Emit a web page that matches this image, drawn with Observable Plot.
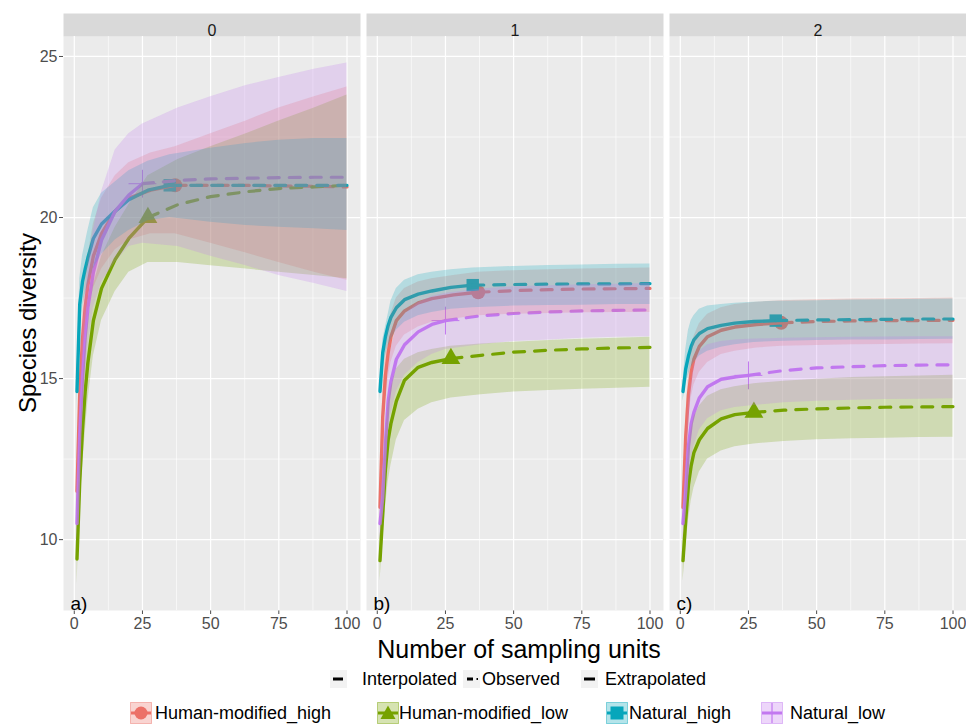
<!DOCTYPE html>
<html><head><meta charset="utf-8">
<script src="https://cdn.jsdelivr.net/npm/d3@7"></script>
<script src="https://cdn.jsdelivr.net/npm/@observablehq/plot@0.6"></script>
<style>
body{margin:0;background:#fff;font-family:"Liberation Sans",Arial,sans-serif;}
#wrap{position:relative;width:966px;height:727px;overflow:hidden;}
.abs{position:absolute;white-space:nowrap;color:#000;}
.lg{position:absolute;font-size:18px;line-height:20px;white-space:nowrap;color:#000;}
.key{position:absolute;}
</style></head><body>
<div id="wrap">
<div id="chart"></div>
<div class="abs" id="ytitle" style="left:28px;top:323px;font-size:24px;transform:translate(-50%,-50%) rotate(-90deg);">Species diversity</div>
<div class="abs" id="xtitle" style="left:519px;top:649px;font-size:25px;transform:translate(-50%,-50%);">Number of sampling units</div>
<div id="legend"></div>
</div>
<script>
// ---------- data ----------
const sites = ["Human-modified_high", "Human-modified_low", "Natural_high", "Natural_low"];
const siteColors = ["#EC7168", "#76A200", "#07A6BB", "#C278F0"];
const siteSymbols = ["circle", "triangle", "square", "plus"];
const orders = [0, 1, 2];
const panelTags = ["a)", "b)", "c)"];
const lineTypes = ["Interpolated", "Observed", "Extrapolated"];
const observedUnits = [37, 27, 35, 25];
const xTicks = [0, 25, 50, 75, 100];
const yTicks = [10, 15, 20, 25];

const unitsHMHigh = [1, 2, 3, 4, 5, 7, 10, 15, 20, 28, 37, 50, 63, 75, 88, 100];
const unitsHMLow  = [1, 2, 3, 4, 5, 7, 10, 15, 20, 27, 38, 50, 63, 75, 88, 100];
const unitsNatHigh = [1, 2, 3, 4, 5, 7, 10, 15, 20, 27, 35, 50, 63, 75, 88, 100];
const unitsNatLow  = [1, 2, 3, 4, 5, 7, 10, 15, 20, 25, 38, 50, 63, 75, 88, 100];

// q = 0
const hmHigh_q0_est = [11.5, 14.5, 16.2, 17.2, 17.9, 18.8, 19.5, 20.2, 20.6, 20.85, 21.0, 21.0, 21.0, 20.98, 20.97, 20.95];
const hmHigh_q0_lo  = [10.8, 13.7, 15.4, 16.3, 17.0, 17.8, 18.4, 19.0, 19.3, 19.5, 19.5, 19.2, 18.9, 18.6, 18.3, 18.05];
const hmHigh_q0_hi  = [12.2, 15.3, 17.0, 18.1, 18.8, 19.8, 20.6, 21.3, 21.7, 22.0, 22.2, 22.6, 23.0, 23.4, 23.75, 24.05];
const hmLow_q0_est = [9.4, 11.8, 13.4, 14.6, 15.5, 16.8, 17.8, 18.7, 19.35, 20.0, 20.4, 20.65, 20.8, 20.9, 20.95, 21.0];
const hmLow_q0_lo  = [8.6, 10.8, 12.2, 13.3, 14.3, 15.7, 16.8, 17.7, 18.3, 18.6, 18.6, 18.5, 18.4, 18.3, 18.2, 18.1];
const hmLow_q0_hi  = [10.2, 12.8, 14.6, 15.9, 16.7, 17.9, 18.8, 19.7, 20.4, 21.3, 21.8, 22.2, 22.6, 23.0, 23.4, 23.8];
const natHigh_q0_est = [14.6, 17.3, 18.0, 18.4, 18.75, 19.35, 19.8, 20.2, 20.55, 20.85, 21.0, 21.0, 21.0, 21.0, 21.0, 21.0];
const natHigh_q0_lo  = [14.0, 16.5, 17.2, 17.6, 17.9, 18.4, 18.85, 19.3, 19.6, 19.9, 20.0, 19.85, 19.75, 19.7, 19.65, 19.6];
const natHigh_q0_hi  = [15.2, 18.1, 18.8, 19.2, 19.6, 20.3, 20.75, 21.1, 21.45, 21.75, 21.95, 22.15, 22.3, 22.4, 22.45, 22.45];
const natLow_q0_est = [10.5, 13.3, 15.0, 16.3, 17.2, 18.3, 19.3, 20.2, 20.7, 21.05, 21.15, 21.2, 21.22, 21.24, 21.25, 21.25];
const natLow_q0_lo  = [9.8, 12.2, 13.7, 15.0, 16.0, 17.2, 18.0, 18.6, 19.1, 19.2, 19.1, 18.8, 18.5, 18.2, 17.95, 17.7];
const natLow_q0_hi  = [11.2, 14.5, 16.4, 17.6, 18.4, 19.6, 20.8, 22.1, 22.6, 22.9, 23.4, 23.75, 24.1, 24.35, 24.6, 24.8];

// q = 1
const hmHigh_q1_est = [11.0, 13.8, 15.1, 15.8, 16.3, 16.8, 17.1, 17.35, 17.48, 17.6, 17.68, 17.73, 17.76, 17.78, 17.79, 17.8];
const hmHigh_q1_lo  = [10.5, 13.0, 14.3, 15.0, 15.5, 16.0, 16.35, 16.6, 16.75, 16.85, 16.95, 17.0, 17.02, 17.04, 17.05, 17.05];
const hmHigh_q1_hi  = [11.5, 14.6, 15.9, 16.6, 17.0, 17.5, 17.8, 18.0, 18.1, 18.2, 18.3, 18.35, 18.38, 18.4, 18.42, 18.43];
const hmLow_q1_est = [9.35, 10.8, 12.2, 13.1, 13.6, 14.3, 14.95, 15.35, 15.5, 15.62, 15.72, 15.82, 15.88, 15.92, 15.95, 15.97];
const hmLow_q1_lo  = [8.7, 9.9, 11.0, 11.8, 12.3, 13.1, 13.7, 14.05, 14.25, 14.4, 14.5, 14.58, 14.63, 14.67, 14.7, 14.73];
const hmLow_q1_hi  = [10.0, 11.6, 13.2, 14.2, 14.7, 15.3, 15.6, 15.8, 15.9, 16.0, 16.07, 16.13, 16.18, 16.22, 16.25, 16.28];
const natHigh_q1_est = [14.6, 15.8, 16.3, 16.65, 16.9, 17.2, 17.45, 17.62, 17.72, 17.83, 17.9, 17.92, 17.93, 17.94, 17.94, 17.95];
const natHigh_q1_lo  = [14.3, 15.2, 15.7, 16.0, 16.2, 16.5, 16.75, 16.95, 17.05, 17.15, 17.2, 17.25, 17.27, 17.28, 17.3, 17.3];
const natHigh_q1_hi  = [14.9, 16.2, 16.6, 17.0, 17.4, 17.8, 18.05, 18.22, 18.3, 18.38, 18.43, 18.48, 18.51, 18.53, 18.55, 18.56];
const natLow_q1_est = [10.5, 11.3, 13.0, 14.3, 14.9, 15.6, 16.05, 16.45, 16.68, 16.8, 16.95, 17.02, 17.07, 17.1, 17.12, 17.13];
const natLow_q1_lo  = [10.0, 10.6, 12.1, 13.3, 13.9, 14.6, 15.1, 15.5, 15.75, 15.9, 16.05, 16.15, 16.2, 16.25, 16.28, 16.3];
const natLow_q1_hi  = [11.0, 12.0, 13.9, 15.3, 15.9, 16.6, 17.0, 17.35, 17.55, 17.65, 17.78, 17.85, 17.88, 17.91, 17.93, 17.95];

// q = 2
const hmHigh_q2_est = [11.0, 13.2, 14.5, 15.2, 15.6, 16.0, 16.3, 16.5, 16.6, 16.68, 16.73, 16.77, 16.79, 16.8, 16.8, 16.81];
const hmHigh_q2_lo  = [10.6, 12.6, 13.8, 14.4, 14.8, 15.2, 15.5, 15.75, 15.85, 15.95, 16.0, 16.03, 16.05, 16.06, 16.07, 16.08];
const hmHigh_q2_hi  = [11.4, 13.8, 15.2, 15.9, 16.3, 16.7, 17.0, 17.2, 17.3, 17.37, 17.42, 17.45, 17.47, 17.48, 17.49, 17.5];
const hmLow_q2_est = [9.35, 10.6, 11.7, 12.3, 12.7, 13.1, 13.45, 13.75, 13.88, 13.95, 14.02, 14.06, 14.09, 14.11, 14.12, 14.13];
const hmLow_q2_lo  = [8.7, 9.7, 10.6, 11.2, 11.6, 12.1, 12.5, 12.75, 12.88, 12.97, 13.05, 13.1, 13.13, 13.15, 13.17, 13.18];
const hmLow_q2_hi  = [10.0, 11.5, 12.8, 13.4, 13.8, 14.15, 14.45, 14.65, 14.75, 14.84, 14.92, 14.98, 15.03, 15.06, 15.08, 15.1];
const natHigh_q2_est = [14.6, 15.3, 15.7, 16.0, 16.2, 16.4, 16.55, 16.65, 16.72, 16.77, 16.8, 16.82, 16.83, 16.84, 16.85, 16.85];
const natHigh_q2_lo  = [14.3, 14.8, 15.1, 15.35, 15.5, 15.7, 15.85, 15.97, 16.05, 16.12, 16.15, 16.18, 16.2, 16.2, 16.21, 16.22];
const natHigh_q2_hi  = [14.9, 15.9, 16.5, 16.8, 16.95, 17.15, 17.25, 17.3, 17.34, 17.37, 17.4, 17.42, 17.44, 17.45, 17.46, 17.47];
const natLow_q2_est = [10.5, 11.5, 12.9, 13.6, 13.95, 14.4, 14.75, 14.98, 15.05, 15.1, 15.25, 15.33, 15.37, 15.4, 15.42, 15.43];
const natLow_q2_lo  = [10.0, 10.7, 11.8, 12.5, 12.9, 13.4, 13.75, 14.0, 14.1, 14.15, 14.25, 14.3, 14.33, 14.35, 14.36, 14.37];
const natLow_q2_hi  = [11.0, 12.4, 14.2, 14.9, 15.4, 15.85, 16.05, 16.15, 16.2, 16.22, 16.25, 16.27, 16.28, 16.29, 16.3, 16.3];

// ---------- build table ----------
const unitsBySite = [unitsHMHigh, unitsHMLow, unitsNatHigh, unitsNatLow];
const curves = [
  [[hmHigh_q0_est, hmHigh_q0_lo, hmHigh_q0_hi], [hmLow_q0_est, hmLow_q0_lo, hmLow_q0_hi], [natHigh_q0_est, natHigh_q0_lo, natHigh_q0_hi], [natLow_q0_est, natLow_q0_lo, natLow_q0_hi]],
  [[hmHigh_q1_est, hmHigh_q1_lo, hmHigh_q1_hi], [hmLow_q1_est, hmLow_q1_lo, hmLow_q1_hi], [natHigh_q1_est, natHigh_q1_lo, natHigh_q1_hi], [natLow_q1_est, natLow_q1_lo, natLow_q1_hi]],
  [[hmHigh_q2_est, hmHigh_q2_lo, hmHigh_q2_hi], [hmLow_q2_est, hmLow_q2_lo, hmLow_q2_hi], [natHigh_q2_est, natHigh_q2_lo, natHigh_q2_hi], [natLow_q2_est, natLow_q2_lo, natLow_q2_hi]]
];
const rows = [];
orders.forEach((q, qi) => {
  sites.forEach((site, si) => {
    const [est, lo, hi] = curves[qi][si];
    unitsBySite[si].forEach((m, i) => {
      rows.push({q, site, si, m, est: est[i], lo: lo[i], hi: hi[i], obs: observedUnits[si]});
    });
  });
});
const interp = rows.filter(d => d.m <= d.obs);
const extrap = rows.filter(d => d.m >= d.obs);
const obsPts = rows.filter(d => d.m === d.obs);
const minorX = [12.5, 37.5, 62.5, 87.5];
const minorY = [12.5, 17.5, 22.5];

const plot = Plot.plot({
  width: 966, height: 636,
  marginLeft: 63, marginRight: 0, marginTop: 36, marginBottom: 26,
  style: {fontFamily: "'Liberation Sans', Arial, sans-serif", fontSize: "16px", color: "#4D4D4D", background: "transparent", overflow: "visible"},
  fx: {domain: orders, paddingInner: 0.02, paddingOuter: 0, axis: null, label: null},
  x: {domain: [-3.95, 104.95], ticks: xTicks, tickSize: 4, tickPadding: 3, label: null},
  y: {domain: [7.8, 25.62], ticks: yTicks, tickSize: 4, tickPadding: 2, label: null},
  color: {domain: sites, range: siteColors},
  symbol: {domain: sites, range: siteSymbols},
  marks: [
    Plot.frame({fill: "#EBEBEB", stroke: "none"}),
    Plot.frame({fill: "#D9D9D9", stroke: "none", insetTop: -23, insetBottom: 574}),
    Plot.ruleX(minorX, {x: d => d, stroke: "#fff", strokeWidth: 0.6}),
    Plot.ruleY(minorY, {y: d => d, stroke: "#fff", strokeWidth: 0.6}),
    Plot.ruleX(xTicks, {x: d => d, stroke: "#fff", strokeWidth: 1.2}),
    Plot.ruleY(yTicks, {y: d => d, stroke: "#fff", strokeWidth: 1.2}),
    Plot.text(orders, {fx: d => d, text: d => String(d), frameAnchor: "top", dy: -11.5, fill: "#1A1A1A", fontSize: 16}),
    Plot.text(orders, {fx: d => d, text: (d, i) => panelTags[i], frameAnchor: "bottom-left", dx: 7, dy: -1, fill: "#000", fontSize: 19}),
    Plot.dot(obsPts.filter(d => d.si !== 3), {fx: "q", x: "m", y: "est", symbol: "site", fill: "site", r: 7}),
    Plot.dot(obsPts.filter(d => d.si === 3), {fx: "q", x: "m", y: "est", symbol: "site", stroke: "site", strokeWidth: 1, r: 9}),
    Plot.line(interp, {fx: "q", x: "m", y: "est", z: "site", stroke: "site", strokeWidth: 3.4}),
    Plot.line(extrap, {fx: "q", x: "m", y: "est", z: "site", stroke: "site", strokeWidth: 3.2, strokeDasharray: "11,10"}),
    Plot.areaY(rows, {fx: "q", x: "m", y1: "lo", y2: "hi", z: "site", fill: "site", fillOpacity: 0.24})
  ]
});
document.getElementById("chart").appendChild(plot);

// ---------- legends ----------
const legend = document.getElementById("legend");
const ns = "http://www.w3.org/2000/svg";
function keySvg(w, h, inner) {
  const div = document.createElement("div");
  div.className = "key";
  div.innerHTML = `<svg xmlns="${ns}" width="${w}" height="${h}">${inner}</svg>`;
  return div;
}
// row 1: line types
const ltKeyX = [330, 463, 581];
const ltTextX = [362, 482, 605];
const ltKeys = [
  `<line x1="3" x2="13" y1="9" y2="9" stroke="#000" stroke-width="3"/>`,
  `<line x1="4" x2="10" y1="9" y2="9" stroke="#000" stroke-width="3"/><line x1="13.5" x2="15" y1="9" y2="9" stroke="#000" stroke-width="2"/>`,
  `<line x1="3" x2="14" y1="9" y2="9" stroke="#000" stroke-width="3"/>`
];
lineTypes.forEach((t, i) => {
  const k = keySvg(17, 18, `<rect width="17" height="18" fill="#F2F2F2"/>${ltKeys[i]}`);
  k.style.left = ltKeyX[i] + "px"; k.style.top = "670px";
  legend.appendChild(k);
  const s = document.createElement("div");
  s.className = "lg"; s.textContent = t;
  s.style.left = ltTextX[i] + "px"; s.style.top = "669px";
  legend.appendChild(s);
});
// row 2: sites
const stKeyX = [130, 377, 606, 761];
const stTextX = [155, 399, 629, 790];
const symPaths = [
  c => `<circle cx="11" cy="11" r="6.5" fill="${c}"/>`,
  c => `<path d="M11,3.5 L18.5,17 L3.5,17 Z" fill="${c}"/>`,
  c => `<rect x="4.5" y="4.5" width="13" height="13" fill="${c}"/>`,
  c => `<line x1="11" x2="11" y1="1" y2="21" stroke="${c}" stroke-width="1.2"/><line x1="1" x2="21" y1="11" y2="11" stroke="${c}" stroke-width="1.2"/>`
];
sites.forEach((s, i) => {
  const c = siteColors[i];
  const k = keySvg(22, 22, `<rect x="0.5" y="0.5" width="21" height="21" fill="${c}" fill-opacity="0.3" stroke="${c}" stroke-opacity="0.45"/><line x1="1" x2="21" y1="11" y2="11" stroke="${c}" stroke-width="3"/>${symPaths[i](c)}`);
  k.style.left = stKeyX[i] + "px"; k.style.top = "702px";
  legend.appendChild(k);
  const t = document.createElement("div");
  t.className = "lg"; t.textContent = s;
  t.style.left = stTextX[i] + "px"; t.style.top = "703px";
  legend.appendChild(t);
});
</script>
</body></html>
